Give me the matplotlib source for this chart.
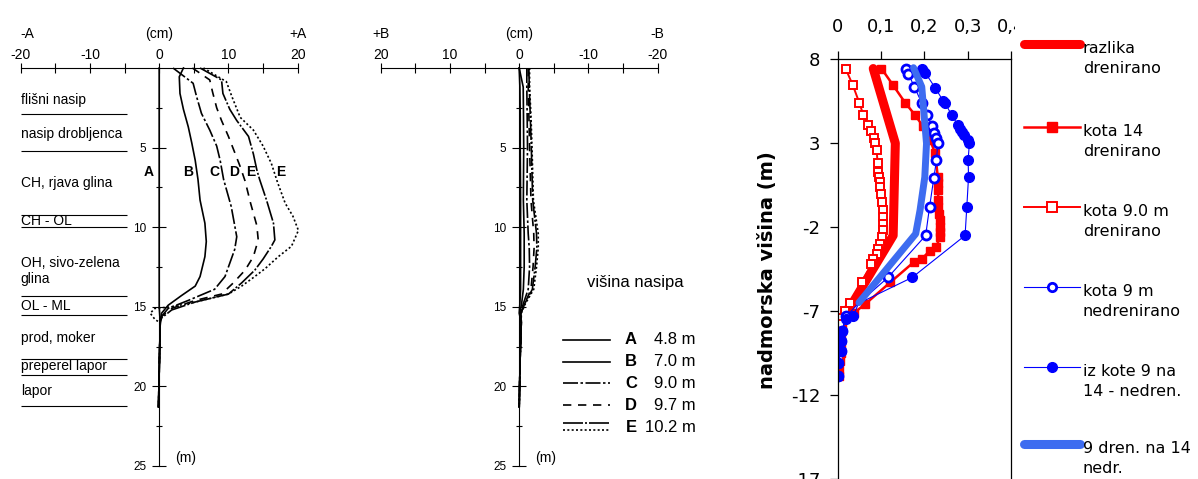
import matplotlib
matplotlib.use('Agg')
import matplotlib.pyplot as plt
from matplotlib.lines import Line2D
from matplotlib.transforms import blended_transform_factory

plt.rcParams['font.family'] = ['Liberation Sans', 'DejaVu Sans']
plt.rcParams['axes.unicode_minus'] = False

W, H = 1198, 479

# ---------------- inclinometer, direction A (depth m, displacement cm)
a_A_depth = [0, 8, 15, 16, 18, 21.3]
a_A_cm = [0, 0, 0, 0.15, 0.05, -0.1]
a_B_depth = [0, 0.55, 1.6, 2.6, 3.7, 4.7, 5.8, 7.0, 8.3, 9.75, 10.9, 11.85, 13.1, 13.7,
             14.3, 14.9, 15.4, 16.0, 18.0, 21.3]
a_B_cm = [3.5, 2.9, 3.0, 3.5, 4.2, 4.7, 5.2, 5.6, 5.9, 6.6, 6.8, 6.6, 5.9, 5.2,
          3.2, 1.3, 0.35, 0.15, 0.05, -0.1]
a_C_depth = [0, 0.96, 1.8, 2.85, 3.9, 4.9, 5.8, 7.0, 8.7, 10.6, 11.4, 13.1, 13.9, 14.6,
             15.1, 15.6, 16.0, 18.0, 21.3]
a_C_cm = [2.0, 4.9, 5.4, 6.1, 7.3, 8.3, 8.8, 9.3, 10.4, 11.2, 10.9, 9.5, 8.0, 4.2,
          1.3, 0.35, 0.15, 0.05, -0.1]
a_D_depth = [0, 0.75, 1.5, 2.5, 3.3, 4.3, 5.3, 6.2, 7.1, 8.5, 9.9, 10.8, 11.85, 12.7,
             13.5, 14.2, 14.6, 15.1, 15.6, 16.0, 18.0, 21.3]
a_D_cm = [4.8, 7.3, 7.7, 8.3, 9.0, 10.0, 10.9, 11.7, 12.4, 13.2, 14.1, 14.3, 13.6, 12.4,
          10.7, 9.0, 5.2, 1.8, 0.35, 0.15, 0.05, -0.1]
a_E_depth = [0, 0.75, 1.6, 2.6, 3.3, 4.3, 5.4, 6.4, 7.0, 8.3, 9.75, 10.8, 11.2, 12.0,
             12.7, 13.5, 14.2, 14.7, 15.2, 15.7, 16.0, 18.0, 21.3]
a_E_cm = [5.9, 9.0, 9.2, 10.2, 11.2, 12.9, 13.6, 14.1, 14.5, 15.5, 16.5, 16.7, 16.2, 15.0,
          13.8, 11.9, 10.0, 5.2, 1.8, 0.35, 0.15, 0.05, -0.1]
a_E2_depth = [0, 0.86, 1.8, 3.1, 3.9, 4.9, 6.0, 7.2, 8.5, 9.3, 10.2, 11.2, 11.85, 12.6,
              13.1, 13.7, 14.2, 14.7, 15.0, 15.1, 15.4, 15.8, 16.0, 18.0, 21.3]
a_E2_cm = [6.4, 9.7, 10.5, 11.7, 13.6, 15.0, 16.2, 17.1, 18.2, 19.3, 20.1, 19.1, 17.2, 15.3,
           13.8, 11.9, 10.0, 5.2, 1.8, -0.6, -1.3, -0.6, 0.15, 0.05, -0.1]

# ---------------- inclinometer, direction B
b_depth = [0, 1.2, 3, 5, 8.3, 10.4, 11.3, 12.5, 13.9, 14.8, 15.4, 16.0, 18.0, 21.3]
b_A_cm = [0, -0.1, -0.15, -0.15, -0.2, -0.2, -0.2, -0.2, -0.2, -0.1, 0, -0.3, -0.15, 0]
b_B_cm = [0, -0.58, -0.62, -0.65, -0.6, -0.72, -0.72, -0.72, -0.6, -0.35, -0.1, -0.3, -0.15, 0]
b_C_cm = [-1.1, -1.1, -1.15, -1.2, -1.1, -1.3, -1.45, -1.5, -1.3, -0.6, -0.2, -0.3, -0.15, 0]
b_D_cm = [-1.3, -1.3, -1.4, -1.5, -1.7, -2.1, -2.15, -2.0, -1.7, -0.8, -0.25, -0.3, -0.15, 0]
b_E_cm = [-1.4, -1.45, -1.6, -1.75, -1.95, -2.5, -2.55, -2.3, -1.9, -0.8, -0.25, -0.3, -0.15, 0]
b_E2_cm = [-1.5, -1.5, -1.7, -1.85, -2.05, -2.75, -2.75, -2.5, -2.1, -0.9, -0.3, -0.3, -0.15, 0]

# soil layers (left panel)
layer_names = ['flišni nasip', 'nasip drobljenca', 'CH, rjava glina', 'CH - OL',
               'OH, sivo-zelena\nglina', 'OL - ML', 'prod, moker', 'preperel lapor', 'lapor']
layer_text_depth = [2.0, 4.15, 7.2, 9.6, 12.75, 14.95, 16.96, 18.7, 20.3]
layer_line_depth = [2.89, 5.21, 9.23, 9.99, 14.32, 15.5, 18.28, 19.28, 21.23]

curve_letters = ['A', 'B', 'C', 'D', 'E', 'E']
curve_letter_x = [-1.5, 4.2, 8.0, 10.8, 13.2, 17.5]

fill_heights = ['A', 'B', 'C', 'D', 'E']
fill_values = ['4.8 m', '7.0 m', '9.0 m', '9.7 m', '10.2 m']

# ---------------- right panel: settlement (m) vs elevation (m)
razlika_x = [0.082, 0.133, 0.128, 0.035, 0.02]
razlika_y = [7.45, 3.0, -2.5, -6.5, -7.0]

k14_y = [7.45, 6.45, 5.4, 4.7, 4.0, 3.2, 2.4, 1.0, 0.6, 0.2, -0.4, -0.8, -1.2, -1.6, -2.0,
         -2.3, -2.6, -3.2, -3.4, -3.9, -4.1, -5.3, -6.6, -7.1, -7.5, -8.0, -8.5, -9.0, -9.5,
         -10.0, -10.5, -10.9]
k14_x = [0.101, 0.128, 0.156, 0.178, 0.197, 0.213, 0.225, 0.231, 0.232, 0.232, 0.232, 0.232,
         0.233, 0.235, 0.236, 0.236, 0.235, 0.228, 0.213, 0.194, 0.175, 0.121, 0.063, 0.038,
         0.012, 0.010, 0.008, 0.008, 0.007, 0.006, 0.004, 0.002]

k9_y = [7.4, 6.45, 5.4, 4.7, 4.1, 3.7, 3.3, 3.0, 2.6, 1.8, 1.3, 1.0, 0.7, 0.4, 0.0, -0.5, -1.0,
        -1.4, -1.8, -2.2, -2.6, -3.0, -3.3, -3.6, -3.9, -4.2, -5.3, -6.5, -7.0, -7.4, -7.8,
        -8.3, -8.8, -9.3, -9.8, -10.3, -10.8]
k9_x = [0.019, 0.035, 0.050, 0.059, 0.071, 0.078, 0.083, 0.086, 0.090, 0.092, 0.094, 0.096,
        0.097, 0.098, 0.100, 0.102, 0.104, 0.105, 0.105, 0.105, 0.103, 0.098, 0.094, 0.090,
        0.082, 0.078, 0.055, 0.028, 0.017, 0.008, 0.005, 0.004, 0.004, 0.003, 0.002, 0.0, 0.0]

k9n_y = [7.4, 7.15, 6.35, 5.4, 4.7, 4.0, 3.6, 3.3, 3.0, 2.0, 0.95, -0.8, -2.5, -5.0, -6.55,
         -7.3, -8.2, -8.8, -9.4, -10.1, -10.9]
k9n_x = [0.157, 0.163, 0.177, 0.194, 0.207, 0.217, 0.222, 0.227, 0.231, 0.228, 0.222, 0.212,
         0.203, 0.116, 0.048, 0.020, 0.009, 0.008, 0.007, 0.001, 0.0]

k914_y = [7.45, 7.3, 7.2, 6.3, 5.5, 5.4, 4.67, 4.07, 3.87, 3.67, 3.47, 3.2, 3.0, 2.0, 1.0,
          -0.8, -2.5, -5.0, -6.55, -7.3, -7.5, -8.2, -8.8, -9.4, -10.1, -10.9]
k914_x = [0.194, 0.197, 0.202, 0.225, 0.244, 0.248, 0.263, 0.278, 0.283, 0.288, 0.292, 0.300,
          0.304, 0.301, 0.302, 0.298, 0.294, 0.172, 0.048, 0.036, 0.020, 0.009, 0.008, 0.007,
          0.001, 0.0]

d914_x = [0.175, 0.194, 0.205, 0.201, 0.19, 0.180, 0.049]
d914_y = [7.5, 6.36, 2.98, 0.98, -1.0, -2.4, -6.5]

right_xticks = [0, 0.1, 0.2, 0.3, 0.4]
right_yticks = [8, 3, -2, -7, -12, -17]

legend_labels = ['razlika\ndrenirano', 'kota 14\ndrenirano', 'kota 9.0 m\ndrenirano',
                 'kota 9 m\nnedrenirano', 'iz kote 9 na\n14 - nedren.', '9 dren. na 14\nnedr.']

RED = '#ff0000'
BLUE = '#0000ff'
LBLUE = '#3d6cf0'


def fx(px):
    return px / W


def fy(py):
    return 1 - py / H


fig = plt.figure(figsize=(W / 100, H / 100), dpi=100)

styles = {
    'A': dict(ls='-', lw=1.2),
    'B': dict(ls='-', lw=1.2),
    'C': dict(ls=(0, (9, 1.5, 1.5, 1.5)), lw=1.2),
    'D': dict(ls=(0, (5, 4)), lw=1.2),
    'E': dict(ls=(0, (12, 1.2, 1.2, 1.2)), lw=1.2),
    'E2': dict(ls=(0, (1.2, 1.4)), lw=1.2),
}


def profile_axes(left_px, xlim, ticks, ticklabels, lbl_left, lbl_right, left_ha):
    ax = fig.add_axes([fx(left_px), fy(466), fx(277), 398 / H])
    ax.patch.set_alpha(0)
    ax.set_xlim(*xlim)
    ax.set_ylim(25, 0)
    ax.spines['right'].set_visible(False)
    ax.spines['bottom'].set_visible(False)
    ax.spines['left'].set_position(('data', 0))
    ax.spines['left'].set_bounds(0, 25)
    for s in ('left', 'top'):
        ax.spines[s].set_linewidth(0.8)
    ax.xaxis.tick_top()
    ax.set_xticks(ticks)
    ax.set_xticklabels(ticklabels)
    ax.set_xticks([-15, -5, 5, 15], minor=True)
    ax.tick_params(axis='x', which='both', direction='inout', length=7, width=0.8,
                   pad=0.5, labelsize=10)
    ax.set_yticks([5, 10, 15, 20, 25])
    ax.set_yticks([2.5, 7.5, 12.5, 17.5, 22.5], minor=True)
    ax.tick_params(axis='y', which='major', direction='inout', length=9.4, width=0.8,
                   pad=4.4, labelsize=8.5)
    ax.tick_params(axis='y', which='minor', direction='inout', length=5, width=0.8)
    tr = blended_transform_factory(ax.transData, fig.transFigure)
    ax.text(xlim[0], fy(34), lbl_left, transform=tr, ha=left_ha, va='center', fontsize=10)
    ax.text(0, fy(34), '(cm)', transform=tr, ha='center', va='center', fontsize=10)
    ax.text(xlim[1], fy(34), lbl_right, transform=tr, ha='center', va='center', fontsize=10)
    ax.text(2.3 if xlim[0] < 0 else -2.3, 24.5, '(m)', ha='left', va='center', fontsize=10)
    return ax


# ---------------- left panel
ax1 = profile_axes(20.7, (-20, 20), [-20, -10, 0, 10, 20], ['-20', '-10', '0', '10', '20'],
                   '-A', '+A', 'left')
ax1.plot(a_A_cm, a_A_depth, color='k', clip_on=False, **styles['A'])
ax1.plot(a_B_cm, a_B_depth, color='k', clip_on=False, **styles['B'])
ax1.plot(a_C_cm, a_C_depth, color='k', clip_on=False, **styles['C'])
ax1.plot(a_D_cm, a_D_depth, color='k', clip_on=False, **styles['D'])
ax1.plot(a_E_cm, a_E_depth, color='k', clip_on=False, **styles['E'])
ax1.plot(a_E2_cm, a_E2_depth, color='k', clip_on=False, **styles['E2'])
ax1.hlines(layer_line_depth, -20, -4.66, color='k', lw=0.8)
for name, d in zip(layer_names, layer_text_depth):
    ax1.text(-20, d, name, ha='left', va='center', fontsize=10, linespacing=1.1)
for letter, x in zip(curve_letters, curve_letter_x):
    ax1.text(x, 6.53, letter, ha='center', va='center', fontsize=10, fontweight='bold')

# ---------------- middle panel
ax2 = profile_axes(380.7, (20, -20), [20, 10, 0, -10, -20], ['20', '10', '0', '-10', '-20'],
                   '+B', '-B', 'center')
ax2.plot(b_A_cm, b_depth, color='k', clip_on=False, **styles['A'])
ax2.plot(b_B_cm, b_depth, color='k', clip_on=False, **styles['B'])
ax2.plot(b_C_cm, b_depth, color='k', clip_on=False, **styles['C'])
ax2.plot(b_D_cm, b_depth, color='k', clip_on=False, **styles['D'])
ax2.plot(b_E_cm, b_depth, color='k', clip_on=False, **styles['E'])
ax2.plot(b_E2_cm, b_depth, color='k', clip_on=False, **styles['E2'])

# legend of the embankment heights
fig.text(fx(635), fy(282), 'višina nasipa', ha='center', va='center', fontsize=12)
row_y = [340, 362, 383, 405, 427]
for key, letter, val, yy in zip(['A', 'B', 'C', 'D', 'E'], fill_heights, fill_values, row_y):
    if key == 'E':
        fig.add_artist(Line2D([fx(563), fx(610)], [fy(423), fy(423)], color='k', **styles['E']))
        fig.add_artist(Line2D([fx(563), fx(610)], [fy(430), fy(430)], color='k', **styles['E2']))
    else:
        fig.add_artist(Line2D([fx(563), fx(610)], [fy(yy), fy(yy)], color='k', **styles[key]))
    fig.text(fx(631), fy(yy), letter, ha='center', va='center', fontsize=12, fontweight='bold')
    fig.text(fx(696), fy(yy), val, ha='right', va='center', fontsize=12)

# ---------------- right panel
ax3 = fig.add_axes([fx(837.7), fy(495.6), fx(173.3), 436.3 / H])
ax3.set_xlim(0, 0.4)
ax3.set_ylim(-18, 8)
ax3.plot(razlika_x, razlika_y, color=RED, lw=6.5, solid_capstyle='round', solid_joinstyle='round')
ax3.plot(k14_x, k14_y, color=RED, lw=1.8, marker='s', ms=6, mfc=RED, mec=RED)
ax3.plot(k9_x, k9_y, color=RED, lw=1.4, marker='s', ms=5.5, mfc='white', mec=RED, mew=1.4)
ax3.plot(k9n_x, k9n_y, color=BLUE, lw=0.8, marker='o', ms=6.5, mfc='white', mec=BLUE, mew=2,
         markevery=[i for i in range(len(k9n_y)) if i != 14])
ax3.plot(k914_x, k914_y, color=BLUE, lw=0.8, marker='o', ms=7, mfc=BLUE, mec=BLUE,
         markevery=[i for i in range(len(k914_y)) if i != 18])
ax3.plot(d914_x, d914_y, color=LBLUE, lw=5, solid_capstyle='round', solid_joinstyle='round')

ax3.xaxis.tick_top()
ax3.set_xticks(right_xticks)
ax3.set_xticklabels(['0' if v == 0 else f'{v:.1f}'.replace('.', ',') for v in right_xticks])
ax3.set_yticks(right_yticks)
ax3.set_yticklabels([str(v) for v in right_yticks])
ax3.tick_params(axis='x', direction='out', length=5.5, width=0.9, pad=11, labelsize=13,
                labelfontfamily='DejaVu Sans')
ax3.tick_params(axis='y', direction='out', length=5.5, width=0.9, pad=7, labelsize=13,
                labelfontfamily='DejaVu Sans')
for s in ax3.spines.values():
    s.set_linewidth(0.9)
ax3.set_ylabel('nadmorska višina (m)', fontsize=14, fontweight='bold', family='DejaVu Sans')
ax3.yaxis.set_label_coords(-0.35, 0.517)

# legend area (white panel on the right)
lg = fig.add_axes([fx(1015), 0, fx(W - 1015), 1])
lg.set_xlim(1015, W)
lg.set_ylim(H, 0)
lg.set_xticks([])
lg.set_yticks([])
for s in lg.spines.values():
    s.set_visible(False)
lg.set_facecolor('white')
leg_y = [44, 127, 207, 287, 367, 444]
leg_styles = [
    dict(color=RED, lw=6.5, solid_capstyle='round'),
    dict(color=RED, lw=1.8, marker='s', ms=7, mfc=RED, mec=RED),
    dict(color=RED, lw=1.4, marker='s', ms=6.5, mfc='white', mec=RED, mew=1.4),
    dict(color=BLUE, lw=0.8, marker='o', ms=6, mfc='white', mec=BLUE, mew=2),
    dict(color=BLUE, lw=0.8, marker='o', ms=7, mfc=BLUE, mec=BLUE),
    dict(color=LBLUE, lw=6.5, solid_capstyle='round'),
]
for lab, yy, st in zip(legend_labels, leg_y, leg_styles):
    lg.plot([1024, 1052, 1080], [yy, yy, yy], markevery=[1], clip_on=False, **st)
    lg.text(1083, yy - 3, lab, ha='left', va='top', fontsize=11.5, family='DejaVu Sans',
            linespacing=1.45)

fig.savefig('out.png', dpi=100)
